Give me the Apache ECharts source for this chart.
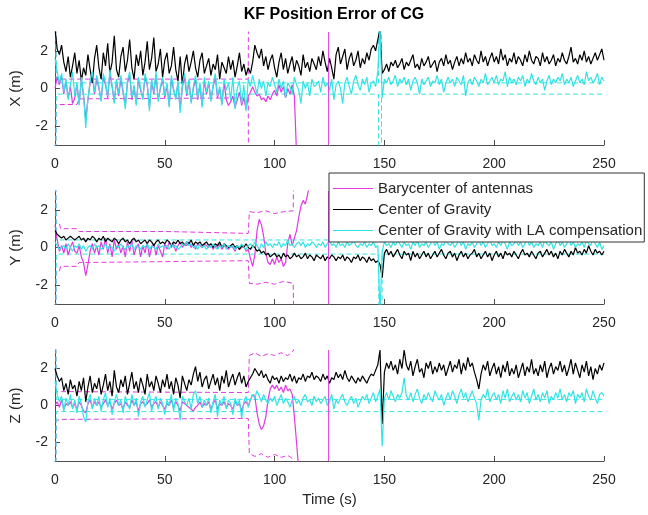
<!DOCTYPE html>
<html><head><meta charset="utf-8">
<script src="https://cdn.jsdelivr.net/npm/echarts@6/dist/echarts.min.js"></script>
<style>html,body{margin:0;padding:0;background:#fff}#c{width:648px;height:515px}</style>
</head><body><div id="c"></div>
<script>
// sample spacing of the signals (s), first sample at t = 0
const dt = 1;
const legendNames = ['Barycenter of antennas', 'Center of Gravity', 'Center of Gravity with LA compensation'];
const axisNames = ['X (m)', 'Y (m)', 'Z (m)'];
const xTicks = [0, 50, 100, 150, 200, 250];
const yTicks = [-2, 0, 2];
const baryEventT = 124.6;

// ---------- X ----------
const xCg = [
3.2,2.1,1.8,2.3,1.4,0.9,1.7,0.6,1.2,1.9,
0.8,1.5,0.4,1.1,0.7,1.8,1.0,0.3,1.6,2.3,
1.1,0.5,1.9,1.2,2.4,0.8,1.4,2.8,1.0,0.6,
1.7,2.2,0.9,1.5,2.6,1.1,0.5,1.8,1.2,2.0,
0.7,1.4,2.5,1.0,1.6,2.7,0.9,1.3,2.1,0.6,
1.5,1.9,0.8,1.2,2.2,1.0,0.4,1.7,0.2,1.3,
1.8,0.9,1.4,2.0,1.1,0.6,1.5,1.9,0.8,1.2,
1.6,0.7,1.3,1.0,1.8,0.5,1.4,1.1,0.8,1.7,
1.0,1.5,0.6,1.2,1.9,0.9,1.3,0.7,1.1,0.8,
1.4,2.3,1.9,1.6,2.1,1.2,1.7,1.0,1.5,1.8,
1.1,0.6,1.4,1.9,1.0,1.6,0.8,1.3,1.7,0.9,
1.5,1.2,0.7,1.8,1.1,1.4,0.9,1.6,1.3,1.0,
1.7,1.2,2.0,1.4,0.9,1.6,1.1,0.5,1.8,2.2,
1.3,1.7,2.1,1.0,1.6,1.9,1.2,1.5,2.0,1.1,
1.6,1.3,1.9,1.5,2.1,2.3,2.0,2.6,3.1,0.8,
1.0,1.3,0.9,1.4,1.2,1.5,1.1,1.3,1.6,1.0,
1.4,1.2,1.5,1.8,1.1,1.3,1.0,1.6,1.2,1.4,
1.7,1.1,1.3,1.5,0.9,1.4,1.6,1.2,1.8,1.3,
1.5,1.0,1.4,1.7,1.2,1.6,1.3,1.9,1.4,1.6,
1.2,1.8,1.5,1.3,2.0,1.4,1.7,1.2,1.6,1.9,
1.4,1.7,1.3,2.1,1.5,1.8,1.2,1.6,1.4,1.9,
1.3,1.7,1.5,1.2,1.8,1.4,2.0,1.5,1.3,1.7,
1.6,1.2,1.9,1.4,1.7,1.3,1.5,1.8,1.2,1.6,
1.4,1.9,1.5,1.3,1.7,2.2,1.4,1.6,1.3,1.8,
1.5,2.0,1.4,1.7,1.3,1.6,1.9,1.5,1.8,2.1,
1.5];
const xCgLa = [
1.6,0.9,0.3,0.8,-0.2,0.5,-0.6,0.2,0.9,-0.4,
0.3,-0.9,0.6,-0.3,-2.1,-0.5,0.4,0.9,-0.2,0.7,
0.1,-0.7,0.8,0.3,-0.4,1.0,0.2,-0.8,0.5,-0.3,
0.7,-0.1,-1.1,0.4,0.9,-0.5,0.2,-0.9,0.6,0.0,
-0.6,0.8,0.3,-1.2,0.5,-0.2,0.9,-0.7,0.1,0.6,
-0.4,0.3,-1.0,0.7,0.0,-0.6,0.4,-1.3,0.2,0.8,
-0.3,0.5,-0.8,0.1,0.7,-0.5,0.3,-1.0,0.6,-0.2,
0.4,-0.7,0.2,0.8,-0.4,0.1,-0.9,0.5,-0.1,0.3,
-0.6,0.6,-1.1,0.0,0.4,-0.8,0.2,-1.2,0.5,0.1,
0.7,0.2,-0.3,0.5,0.0,0.4,-0.4,0.3,0.1,0.6,
0.2,-0.2,0.5,0.0,0.4,-0.5,0.3,0.1,-0.3,0.6,
0.2,-0.1,-0.8,0.4,0.0,0.3,-0.4,0.5,0.1,0.2,
0.4,-0.2,0.6,0.1,0.3,-0.1,0.5,-0.6,0.2,0.4,
0.0,-0.8,0.3,0.6,0.1,-0.3,0.4,0.7,0.2,-0.1,
0.5,0.2,0.6,-0.2,0.3,0.4,0.1,0.9,3.2,-0.5,
0.5,0.3,0.6,0.2,0.4,0.7,0.1,0.5,0.3,0.6,
0.2,0.5,-0.1,0.4,0.6,0.3,-0.3,0.5,0.2,0.4,
0.6,0.1,0.4,0.3,0.7,0.2,0.5,-0.2,0.3,0.6,
0.3,0.5,0.1,0.6,0.4,0.2,0.7,-0.4,0.3,0.5,
0.2,0.6,0.4,0.1,0.5,0.3,0.8,0.2,0.4,0.6,
0.3,0.7,0.2,0.5,0.4,0.9,0.1,0.6,0.3,0.5,
0.2,0.6,0.4,0.7,0.1,0.5,0.3,0.8,0.4,0.2,
0.6,0.3,0.5,-0.1,0.4,0.7,0.2,0.5,0.3,0.6,
0.4,0.8,0.2,0.5,0.3,0.6,0.1,0.4,0.7,0.3,
0.5,0.2,0.9,0.4,0.6,0.3,0.5,0.8,0.2,0.6,
0.4];
const xBary = [
0.0,0.6,0.2,0.7,-0.3,0.4,-0.5,0.1,-0.8,-0.5,
0.2,-0.8,0.5,-0.4,-1.6,-0.6,0.3,0.7,-0.3,0.5,
0.0,-0.6,0.6,0.2,-0.5,0.8,0.1,-0.7,0.4,-0.4,
0.5,-0.2,-0.9,0.3,0.7,-0.6,0.1,-0.8,0.5,-0.1,
-0.5,0.6,0.2,-1.0,0.4,-0.3,0.7,-0.6,0.0,0.5,
-0.5,0.2,-0.9,0.5,-0.1,-0.5,0.3,-1.1,0.1,0.6,
-0.4,0.4,-0.7,0.0,0.5,-0.6,0.2,-0.9,0.4,-0.3,
0.3,-0.6,0.1,0.6,-0.5,0.0,-0.8,0.3,-0.6,-0.9,
-0.7,-0.4,-1.0,-0.6,-0.2,-0.9,-0.5,-1.1,-0.4,-0.2,
0.1,-0.2,-0.4,-0.3,-0.6,-0.5,-0.7,-0.4,-0.6,-0.3,
-0.1,-0.4,0.2,-0.2,0.1,-0.5,0.0,-0.3,0.2,-0.4,
-3.5,-7];
const xBaryUpper = [[0,10],[0.5,0.5],[10,0.5],[11,0.5],[88,0.5],[88.2,10]];
const xBaryLower = [[0,-10],[0.5,-0.85],[10,-0.85],[11,-0.55],[88,-0.5],[88.2,-10]];
const xLaUpper = [[0,10],[0.6,0.3],[147.3,0.3],[147.5,10],[148.5,10],[148.7,0.3],[250,0.3]];
const xLaLower = [[0,-10],[0.6,-0.3],[147.3,-0.3],[147.5,-10],[148.5,-10],[148.7,-0.3],[250,-0.3]];

// ---------- Y ----------
const yCg = [
0.9,0.7,0.6,0.5,0.6,0.4,0.5,0.6,0.5,0.4,
0.5,0.6,0.4,0.5,0.3,0.5,0.4,0.6,0.5,0.3,
0.5,0.4,0.6,0.3,0.5,0.4,0.3,0.5,0.4,0.2,
0.4,0.5,0.3,0.4,0.2,0.4,0.5,0.3,0.4,0.2,
0.3,0.4,0.2,0.4,0.3,0.1,0.3,0.4,0.2,0.3,
0.2,0.4,0.3,0.1,0.3,0.2,0.4,0.2,0.3,0.1,
0.3,0.2,0.4,0.1,0.3,0.2,0.3,0.1,0.2,0.3,
0.1,0.2,0.0,0.2,0.1,0.3,0.0,0.2,0.1,0.0,
0.1,0.2,0.0,0.1,-0.1,0.1,0.0,0.2,0.0,-0.1,
0.1,0.0,-0.2,-0.1,-0.3,-0.2,-0.4,-0.3,-0.5,-0.4,
-0.3,-0.5,-0.4,-0.6,-0.3,-0.5,-0.4,-0.6,-0.5,-0.3,
-0.5,-0.4,-0.6,-0.5,-0.3,-0.6,-0.4,-0.5,-0.7,-0.4,
-0.5,-0.6,-0.4,-0.7,-0.5,-0.6,-0.4,-0.5,-0.7,-0.5,
-0.6,-0.4,-0.7,-0.5,-0.6,-0.8,-0.5,-0.6,-0.4,-0.7,
-0.5,-0.6,-0.8,-0.5,-0.7,-0.6,-0.8,-0.7,-0.9,-1.6,
-0.3,-0.1,-0.4,-0.2,-0.5,-0.3,-0.1,-0.4,-0.6,-0.2,
-0.4,-0.3,-0.7,-0.2,-0.5,-0.3,-0.6,-0.4,-0.2,-0.5,
-0.3,-0.6,-0.4,-0.2,-0.5,-0.3,-0.1,-0.4,-0.6,-0.3,
-0.2,-0.5,-0.3,-0.7,-0.4,-0.2,-0.5,-0.3,-0.6,-0.4,
-0.3,-0.1,-0.5,-0.3,-0.6,-0.4,-0.2,-0.5,-0.3,-0.7,
-0.4,-0.2,-0.5,-0.3,-0.6,-0.2,-0.4,-0.3,-0.5,-0.2,
-0.4,-0.6,-0.3,-0.1,-0.4,-0.3,-0.5,-0.2,-0.4,-0.6,
-0.3,-0.2,-0.5,-0.3,-0.1,-0.4,-0.2,-0.5,-0.3,-0.6,
-0.2,-0.4,-0.1,-0.3,-0.5,-0.2,-0.4,0.0,-0.3,-0.2,
-0.4,-0.1,-0.3,0.1,-0.2,-0.4,-0.1,-0.3,-0.2,-0.4,
-0.2];
const yCgLa = [
0.3,0.1,-0.1,0.0,0.1,-0.1,0.2,0.0,-0.2,0.1,
0.0,0.2,-0.1,0.1,-0.2,0.0,0.1,-0.1,0.2,0.0,
0.1,-0.1,0.0,0.2,-0.1,0.1,0.0,-0.2,0.1,0.0,
0.2,0.0,-0.1,0.1,0.0,0.2,-0.1,0.1,0.0,-0.1,
0.1,0.0,0.2,-0.1,0.1,0.0,-0.1,0.2,0.0,0.1,
0.0,0.1,-0.1,0.2,0.0,0.1,-0.1,0.0,0.2,0.1,
0.3,0.1,0.2,0.0,0.1,-0.1,0.2,0.0,0.1,-0.1,
0.1,0.0,0.2,0.0,-0.1,0.1,0.0,0.2,-0.1,0.1,
0.0,0.1,-0.1,0.1,0.0,0.2,0.0,-0.1,0.1,0.2,
0.0,0.3,0.1,-0.1,0.2,0.0,0.3,0.1,0.2,0.0,
0.2,0.1,0.3,0.0,0.2,0.1,0.4,0.1,0.2,0.0,
0.2,0.3,0.1,0.3,0.0,0.2,0.1,0.3,0.2,0.0,
0.2,0.1,0.3,0.0,0.2,0.4,0.1,0.2,0.0,0.3,
0.1,0.2,0.0,0.3,0.1,0.2,0.4,0.1,0.0,0.2,
0.1,0.3,0.0,0.2,0.1,0.3,0.0,0.1,-3.5,-0.2,
0.3,0.1,0.2,0.0,0.3,0.1,0.4,0.2,0.0,0.3,
0.1,0.2,-0.1,0.3,0.1,0.4,0.0,0.2,0.1,0.3,
0.0,0.2,0.4,0.1,0.3,-0.1,0.2,0.1,0.5,0.2,
0.1,0.3,0.0,0.2,0.4,0.1,0.3,-0.1,0.2,0.1,
0.3,0.0,0.2,0.4,0.1,0.3,0.0,0.2,0.5,0.1,
0.2,0.0,0.3,0.1,0.4,0.2,-0.1,0.3,0.1,0.2,
0.4,0.1,0.3,0.0,0.2,0.5,0.1,0.3,0.0,0.2,
0.1,0.3,0.0,0.4,0.2,0.1,0.3,-0.1,0.2,0.4,
0.1,0.3,0.0,0.2,0.5,0.1,0.3,0.0,0.2,0.1,
0.3,0.0,0.4,0.2,0.1,0.5,0.2,0.0,0.3,-0.1,
0.1];
const yBary = [
1.2,0.4,-0.2,0.1,-0.3,0.2,-0.4,0.0,0.3,-0.2,
-0.3,0.1,-0.5,-0.8,-1.5,-0.9,-0.2,0.2,-0.3,0.1,
-0.4,0.3,-0.1,0.5,-0.3,0.2,-0.5,0.4,-0.1,0.2,
-0.3,0.1,-0.5,0.3,-0.2,0.4,-0.4,0.0,0.2,-0.5,
0.1,-0.3,0.3,-0.5,0.0,0.2,-0.4,0.1,-0.2,-0.5,
0.2,-0.1,0.3,0.0,0.2,-0.2,0.1,0.3,0.0,0.2,
0.1,0.3,0.0,0.2,-0.1,0.2,0.1,0.0,0.2,0.1,
0.0,0.2,-0.1,0.1,0.0,0.2,-0.1,0.1,0.0,-0.1,
0.1,0.0,-0.2,0.1,-0.1,0.0,0.1,-0.2,-0.1,-0.6,
-1.0,-0.4,0.9,1.5,1.2,0.6,-0.3,-0.8,-0.9,-0.6,
-0.9,-0.5,-0.8,-0.6,-1.0,-0.8,0.2,0.7,0.1,0.5,
0.9,1.6,2.2,2.5,2.3,2.8,3.4];
const yBaryUpper = [[0,10],[0.5,1.3],[2,1.3],[2.5,1.0],[10,1.0],[11,0.85],[50,0.85],[88,0.75],[88.5,1.9],[92,1.85],[96,1.95],[100,1.8],[104,1.9],[108.5,1.95],[109,10]];
const yBaryLower = [[0,-10],[0.5,-1.3],[2,-1.3],[2.5,-1.0],[10,-1.0],[11,-0.8],[50,-0.75],[88,-0.7],[88.5,-1.9],[92,-1.95],[96,-1.85],[100,-1.95],[104,-1.8],[108.5,-1.9],[109,-10]];
const yLaUpper = [[0,10],[0.6,0.4],[147.4,0.4],[147.6,10],[148.8,10],[149.0,0.4],[250,0.4]];
const yLaLower = [[0,-10],[0.6,-0.35],[147.4,-0.35],[147.6,-10],[148.8,-10],[149.0,-0.35],[250,-0.35]];

// ---------- Z ----------
const zCg = [
2.0,1.6,1.3,1.5,0.8,1.2,0.6,1.4,0.9,1.1,
0.5,1.3,0.8,1.5,0.2,1.0,1.6,0.7,1.2,0.9,
1.5,0.6,1.1,1.7,0.8,1.3,0.5,1.9,1.0,0.7,
1.4,1.0,1.6,0.6,1.2,1.8,0.9,1.3,0.7,1.5,
1.1,0.6,1.7,1.0,1.3,0.8,1.6,1.2,0.7,1.4,
1.0,1.7,0.9,1.3,0.6,1.5,1.1,0.4,1.6,1.2,
0.8,1.4,1.1,1.7,2.1,1.3,1.8,1.0,1.4,1.6,
0.9,1.3,1.7,1.1,1.5,0.8,1.6,1.2,1.9,1.0,
1.4,1.7,1.1,1.5,1.8,1.2,1.6,1.0,1.3,1.5,
1.7,2.0,1.8,1.6,1.9,1.5,1.7,1.4,1.2,1.6,
1.4,1.5,1.2,1.6,1.3,1.5,1.4,1.7,1.3,1.6,
1.2,1.5,1.4,1.7,1.3,1.6,1.5,1.8,1.4,1.6,
1.5,1.3,1.7,1.4,1.6,1.2,1.5,1.4,1.8,1.5,
1.7,1.4,1.9,1.5,1.3,1.6,1.4,1.2,1.5,1.3,
1.6,1.4,1.2,1.5,1.7,1.6,1.9,2.2,3.0,-1.0,
1.8,2.3,2.0,2.4,1.9,2.2,1.7,2.5,2.0,3.0,
2.2,1.9,2.4,1.6,2.1,2.5,1.8,2.0,1.5,2.3,
2.0,2.4,1.7,2.1,1.8,2.3,1.9,2.2,1.6,2.0,
2.4,1.8,2.2,2.0,2.5,1.7,2.3,1.9,2.6,2.1,
2.3,1.8,1.4,0.9,1.7,2.2,1.9,2.4,1.6,2.0,
2.3,1.7,2.1,1.5,2.2,1.8,2.4,1.6,2.0,1.7,
2.2,1.5,1.9,2.3,1.6,2.1,1.8,2.5,1.7,2.0,
1.6,2.2,1.8,2.4,1.5,2.0,2.3,1.7,2.1,1.9,
2.4,1.8,2.2,1.6,2.0,2.5,1.7,2.3,1.9,1.5,
2.2,1.8,2.4,1.6,2.1,1.4,2.0,1.7,2.2,1.9,
2.3];
const zCgLa = [
1.3,0.6,0.2,0.5,-0.3,0.4,0.0,0.6,-0.2,0.3,
-0.4,0.5,0.1,-0.6,-0.9,0.2,0.6,-0.2,0.4,0.0,
0.5,-0.3,0.3,0.7,-0.1,0.4,-0.5,0.2,0.6,0.0,
0.3,-0.4,0.5,0.1,-0.2,0.6,0.0,0.4,-0.6,0.2,
0.5,-0.1,0.3,0.7,-0.3,0.2,0.5,-0.2,0.4,0.1,
-0.5,0.3,0.0,0.6,-0.3,0.4,0.1,-0.8,0.5,0.2,
0.0,0.4,-0.2,0.6,0.8,0.1,0.5,-0.1,0.3,0.0,
0.4,-0.4,0.2,0.6,-0.6,0.3,0.0,0.5,-0.2,0.3,
0.1,-0.5,0.4,0.0,0.3,-0.7,0.2,0.5,-0.1,0.3,
0.6,0.4,0.8,0.5,0.2,0.6,0.3,0.1,0.4,0.2,
0.5,0.0,0.3,0.6,0.1,0.4,0.2,-0.1,0.3,0.5,
0.1,0.3,0.0,0.4,0.6,0.2,0.3,0.0,0.5,0.2,
0.4,0.1,0.3,0.5,0.0,0.2,0.6,-0.2,0.3,0.1,
0.4,0.6,0.2,0.0,0.3,0.5,0.1,0.4,-0.1,0.2,
0.5,0.3,0.6,0.1,0.4,0.7,0.2,0.5,0.9,-2.2,
0.4,0.7,0.3,0.8,0.5,0.2,0.6,0.4,0.7,1.5,
0.5,0.3,0.7,0.2,0.6,0.9,0.4,0.1,0.6,0.3,
0.7,0.4,0.2,0.8,0.5,0.3,0.6,0.0,0.4,0.7,
0.3,0.8,0.5,0.1,0.6,0.9,0.4,0.7,0.2,0.5,
0.8,0.4,0.1,-0.8,0.3,0.6,0.4,0.9,0.2,0.5,
0.7,0.3,0.6,0.1,0.8,0.4,0.9,0.2,0.5,0.7,
0.3,0.6,0.2,0.8,0.4,0.7,0.1,0.5,0.9,0.3,
0.6,0.2,0.7,0.4,0.8,0.1,0.5,0.3,0.7,0.4,
0.9,0.3,0.6,0.2,0.7,0.5,0.8,0.1,0.6,0.4,
0.7,0.2,0.9,0.5,0.3,0.8,0.4,0.1,0.6,0.7,
0.5];
const zBary = [
0.0,0.2,-0.1,0.3,-0.2,0.1,0.0,0.2,-0.1,0.1,
-0.2,0.2,0.0,-0.3,-0.4,0.1,0.3,-0.1,0.2,0.0,
0.2,-0.1,0.1,0.3,0.0,0.2,-0.2,0.1,0.3,0.0,
0.1,-0.2,0.2,0.0,-0.1,0.3,0.0,0.2,-0.3,0.1,
0.2,0.0,0.1,0.3,-0.1,0.1,0.2,-0.1,0.2,0.0,
-0.2,0.1,0.0,0.3,-0.1,0.2,0.0,-0.3,0.2,0.1,
0.0,-0.1,-0.2,-0.3,-0.1,0.0,0.2,-0.1,0.1,0.0,
0.2,-0.2,0.1,0.3,-0.2,0.1,0.0,0.2,-0.1,0.1,
0.0,-0.2,0.2,0.0,0.1,-0.3,0.1,0.2,0.0,0.3,
0.6,0.5,-0.4,-1.0,-1.3,-1.1,-0.6,0.3,0.9,1.1,
0.9,1.1,0.8,1.0,0.7,1.1,0.8,0.9,0.6,-0.6,
-2.0,-3.5,-5];
const zBaryUpper = [[0,10],[0.5,0.75],[3,0.75],[88,0.7],[88.5,2.7],[91,2.85],[94,2.65],[97,2.8],[100,2.7],[103,2.85],[106,2.7],[108.5,2.95],[109,10]];
const zBaryLower = [[0,-10],[0.5,-0.8],[3,-0.75],[88,-0.7],[88.5,-2.6],[91,-2.75],[94,-2.6],[97,-2.8],[100,-2.65],[103,-2.8],[106,-2.7],[108.5,-2.9],[109,-10]];
const zLaUpper = [[0,10],[0.6,0.33],[250,0.33]];
const zLaLower = [[0,-10],[0.6,-0.33],[250,-0.33]];

const MAG = '#e03ae0', CYA = '#33e3e3', BLK = '#000000';
const panels = [
  {bary: xBary, cg: xCg, la: xCgLa, bu: xBaryUpper, bl: xBaryLower, lu: xLaUpper, ll: xLaLower},
  {bary: yBary, cg: yCg, la: yCgLa, bu: yBaryUpper, bl: yBaryLower, lu: yLaUpper, ll: yLaLower},
  {bary: zBary, cg: zCg, la: zCgLa, bu: zBaryUpper, bl: zBaryLower, lu: zLaUpper, ll: zLaLower}
];
const gridTops = [32, 191, 350];
const gridHeights = [113, 113, 111];

function sig(arr) { return arr.map((v, i) => [i * dt, v]); }

const grids = [], xAxes = [], yAxes = [], series = [];
const axisColor = '#4d4d4d', textColor = '#262626';
panels.forEach((p, k) => {
  grids.push({left: 55, right: 44, top: gridTops[k], height: gridHeights[k]});
  xAxes.push({
    type: 'value', gridIndex: k, min: 0, max: 250,
    axisLine: {onZero: false, lineStyle: {color: axisColor, width: 1}},
    axisTick: {inside: true, length: 5, customValues: xTicks, lineStyle: {color: axisColor}},
    axisLabel: {customValues: xTicks, fontSize: 14, color: textColor, margin: 12, fontFamily: 'Liberation Sans'},
    splitLine: {show: false},
    name: k === 2 ? 'Time (s)' : '', nameLocation: 'middle', nameGap: 31,
    nameTextStyle: {fontSize: 15, color: textColor, fontFamily: 'Liberation Sans'}
  });
  yAxes.push({
    type: 'value', gridIndex: k, min: -3, max: 3,
    axisLine: {show: true, onZero: false, lineStyle: {color: axisColor, width: 1}},
    axisTick: {show: true, inside: true, length: 5, customValues: yTicks, lineStyle: {color: axisColor}},
    axisLabel: {customValues: yTicks, fontSize: 14, color: textColor, margin: 7, fontFamily: 'Liberation Sans'},
    splitLine: {show: false},
    name: axisNames[k], nameLocation: 'middle', nameGap: 32,
    nameTextStyle: {fontSize: 15, color: textColor, fontFamily: 'Liberation Sans'}
  });
  const common = {type: 'line', xAxisIndex: k, yAxisIndex: k, symbol: 'none', showSymbol: false, animation: false, clip: true};
  const dash = [5, 3];
  series.push(Object.assign({}, common, {name: 'bary bound', data: p.bu, lineStyle: {color: MAG, width: 1, type: dash}}));
  series.push(Object.assign({}, common, {name: 'bary bound', data: p.bl, lineStyle: {color: MAG, width: 1, type: dash}}));
  series.push(Object.assign({}, common, {name: 'la bound', data: p.lu, lineStyle: {color: CYA, width: 1, type: dash}}));
  series.push(Object.assign({}, common, {name: 'la bound', data: p.ll, lineStyle: {color: CYA, width: 1, type: dash}}));
  series.push(Object.assign({}, common, {name: legendNames[0], data: sig(p.bary), lineStyle: {color: MAG, width: 1.2}, itemStyle: {color: MAG}}));
  series.push(Object.assign({}, common, {name: legendNames[1], data: sig(p.cg), lineStyle: {color: BLK, width: 1.2}, itemStyle: {color: BLK}}));
  series.push(Object.assign({}, common, {name: legendNames[2], data: sig(p.la), lineStyle: {color: CYA, width: 1.2}, itemStyle: {color: CYA}}));
  series.push(Object.assign({}, common, {name: legendNames[0], data: [[baryEventT, -3], [baryEventT, 3]], lineStyle: {color: MAG, width: 1}, itemStyle: {color: MAG}}));
});

const chart = echarts.init(document.getElementById('c'), null, {renderer: 'canvas'});
chart.setOption({
  animation: false,
  backgroundColor: '#ffffff',
  title: {text: 'KF Position Error of CG', left: 329, top: 2, textAlign: 'center',
    textStyle: {fontSize: 16, fontWeight: 'bold', color: '#000', fontFamily: 'Liberation Sans'}},
  legend: {
    data: legendNames, orient: 'vertical', left: 329, top: 173,
    icon: 'rect', itemWidth: 40, itemHeight: 1, itemGap: 4,
    padding: [7, 2, 3, 4], backgroundColor: '#ffffff', borderColor: '#333333', borderWidth: 1,
    textStyle: {fontSize: 15, color: textColor, fontFamily: 'Liberation Sans', lineHeight: 17},
    selectedMode: false
  },
  grid: grids, xAxis: xAxes, yAxis: yAxes, series: series
});
</script>
</body></html>
